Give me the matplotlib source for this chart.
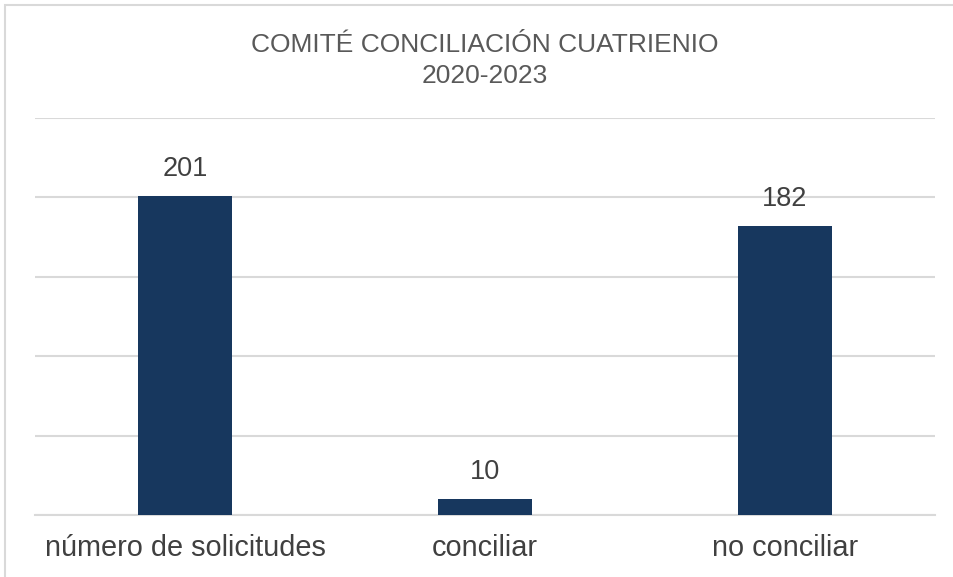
import matplotlib
matplotlib.use("Agg")
import matplotlib.pyplot as plt
from matplotlib.patches import Rectangle

categorias = ["número de solicitudes", "conciliar", "no conciliar"]
valores = [201, 10, 182]
marcas_y = [0, 50, 100, 150, 200, 250]

COLOR_BARRA = "#17375E"
COLOR_REJILLA = "#D9D9D9"
COLOR_TEXTO = "#404040"

plt.rcParams["font.family"] = ["Liberation Sans", "DejaVu Sans"]

fig = plt.figure(figsize=(9.54, 5.77), dpi=100)
W, H = 954, 577

# marco del gráfico (recortado por la derecha y por abajo)
fig.patches.append(Rectangle((5 / W, -0.1), 1.2, 1.1 - 5 / H,
                             transform=fig.transFigure, fill=False,
                             edgecolor="#D9D9D9", linewidth=1.5))

ax = fig.add_axes([35 / W, 1 - 515 / H, 900 / W, (515 - 118) / H])
x = range(len(categorias))
barras = ax.bar(x, valores, width=0.313, color=COLOR_BARRA, zorder=3)

ax.set_xlim(-0.5, 2.5)
ax.set_ylim(0, 250)
ax.set_yticks(marcas_y)
ax.yaxis.grid(True, color=COLOR_REJILLA, linewidth=1.5)
ax.set_axisbelow(True)
ax.tick_params(axis="y", length=0, labelleft=False)
ax.tick_params(axis="x", length=0, pad=14, labelsize=20.8, labelcolor=COLOR_TEXTO)
ax.set_xticks(list(x))
ax.set_xticklabels(categorias)
for lado in ["top", "right", "left"]:
    ax.spines[lado].set_visible(False)
ax.spines["bottom"].set_color(COLOR_REJILLA)
ax.spines["bottom"].set_linewidth(1.5)

for b, v in zip(barras, valores):
    ax.annotate(str(v), (b.get_x() + b.get_width() / 2, v),
                xytext=(0, 10), textcoords="offset points",
                ha="center", va="bottom", fontsize=19.5, color=COLOR_TEXTO)

fig.text(485 / W, 1 - 45 / H, "COMITÉ CONCILIACIÓN CUATRIENIO",
         ha="center", va="center", fontsize=19, color="#595959")
fig.text(485 / W, 1 - 76 / H, "2020-2023",
         ha="center", va="center", fontsize=19, color="#595959")

fig.savefig("out.png", dpi=100, facecolor="white")
